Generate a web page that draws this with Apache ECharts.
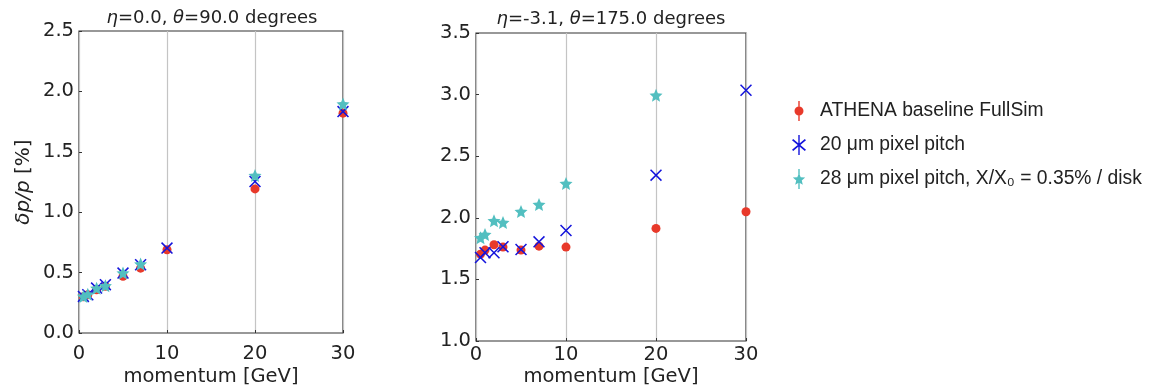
<!DOCTYPE html>
<html><head><meta charset="utf-8">
<script src="https://cdn.jsdelivr.net/npm/echarts@6/dist/echarts.min.js"></script>
<style>html,body{margin:0;padding:0;background:#fff}#c{width:1155px;height:386px}</style>
</head><body><div id="c"></div>
<script>
// ---- data ----
const momentum = [0.5, 1, 2, 3, 5, 7, 10, 20, 30];
const xTicks = [0, 10, 20, 30];
const seriesNames = ['ATHENA baseline FullSim', '20 \u03bcm pixel pitch', '28 \u03bcm pixel pitch, X/X\u2080 = 0.35% / disk'];
// eta = 0.0, theta = 90 deg
const leftBaseline = [0.30, 0.317, 0.358, 0.386, 0.469, 0.537, 0.689, 1.193, 1.82];
const left20um     = [0.303, 0.317, 0.372, 0.40, 0.496, 0.565, 0.703, 1.254, 1.833];
const left28um     = [0.303, 0.32, 0.37, 0.391, 0.496, 0.571, null, 1.304, 1.896];
// eta = -3.1, theta = 175 deg
const rightBaseline = [1.705, 1.738, 1.781, 1.762, 1.738, 1.770, 1.762, 1.914, 2.049];
const right20um     = [1.678, 1.716, 1.716, 1.765, 1.743, 1.805, 1.897, 2.346, 3.035];
const right28um     = [1.838, 1.865, 1.976, 1.962, 2.051, 2.108, 2.278, 2.995, null];

// ---- styles ----
const RED = '#e8392a', BLUE = '#1414dc', CYAN = '#52bfc0';
function starPath(cx, cy, ro, ri) {
  let d = '';
  for (let i = 0; i < 10; i++) {
    const a = i * Math.PI / 5;
    const r = i % 2 ? ri : ro;
    const x = cx + r * Math.sin(a), y = cy - r * Math.cos(a);
    d += (i ? 'L' : 'M') + x.toFixed(2) + ',' + y.toFixed(2);
  }
  return d + 'Z';
}
const X_SYM = 'path://M0,0.9L0.9,0L10,9.1L9.1,10Z M9.1,0L10,0.9L0.9,10L0,9.1Z';
const STAR_SYM = 'path://' + starPath(10, 10, 10, 4.6);
const BAR = 'M9.3,0h1.4v20h-1.4z ';
const ICON_RED = 'path://' + BAR + 'M5.5,10a4.5,4.5 0 1 1 9,0a4.5,4.5 0 1 1 -9,0z';
const ICON_BLUE = 'path://' + BAR + 'M3,5.2L4.2,4L17,14.8L15.8,16Z M15.8,4L17,5.2L4.2,16L3,14.8Z';
const ICON_CYAN = 'path://' + BAR + starPath(10, 10.5, 6.5, 2.9);

function pairs(ys) { return momentum.map((m, i) => [m, ys[i]]); }

const FS = 19.5;
const tickFont = {fontFamily: 'DejaVu Sans', fontSize: FS, color: '#222'};
function xAxis(gridIndex, gap, margin) {
  return {
    type: 'value', gridIndex, min: 0, max: 30, interval: 10,
    name: 'momentum [GeV]', nameLocation: 'middle', nameGap: gap, nameMoveOverlap: false,
    nameTextStyle: {fontFamily: 'DejaVu Sans', fontSize: FS, color: '#222'},
    axisLine: {show: false},
    axisTick: {show: true, inside: true, length: 3, lineStyle: {color: '#333'}},
    axisLabel: Object.assign({margin}, tickFont),
    splitLine: {show: true, lineStyle: {color: '#c4c4c4', width: 1.2}}
  };
}
function yAxis(gridIndex, min, max, name) {
  return {
    type: 'value', gridIndex, min, max, interval: 0.5,
    name: name || '', nameLocation: 'middle', nameGap: 45, nameMoveOverlap: false,
    nameTextStyle: {fontFamily: 'DejaVu Sans', fontSize: 20, color: '#222',
      rich: {i: {fontFamily: 'DejaVu Sans', fontStyle: 'italic', fontSize: 20, color: '#222'},
             n: {fontFamily: 'DejaVu Sans', fontSize: 20, color: '#222'}}},
    axisLine: {show: false},
    axisTick: {show: true, inside: true, length: 3, lineStyle: {color: '#333'}},
    axisLabel: Object.assign({margin: 5, formatter: v => v.toFixed(1)}, tickFont),
    splitLine: {show: false}
  };
}
function sc(name, xi, data, sym, size, color, z) {
  return {name, type: 'scatter', xAxisIndex: xi, yAxisIndex: xi, data: pairs(data),
    symbol: sym, symbolSize: size, itemStyle: {color, opacity: 1}, z, silent: true};
}
const titleRich = {
  i: {fontFamily: 'DejaVu Sans', fontStyle: 'italic', fontWeight: 'normal', fontSize: 18, color: '#222'},
  n: {fontFamily: 'DejaVu Sans', fontWeight: 'normal', fontSize: 18, color: '#222'}
};
const chart = echarts.init(document.getElementById('c'), null, {renderer: 'canvas'});
chart.setOption({
  animation: false,
  title: [
    {text: '{i|\u03b7}{n|=0.0, }{i|\u03b8}{n|=90.0 degrees}', left: 207, top: 4, textAlign: 'center',
     textStyle: {fontWeight: 'normal', rich: titleRich}},
    {text: '{i|\u03b7}{n|=-3.1, }{i|\u03b8}{n|=175.0 degrees}', left: 606, top: 5, textAlign: 'center',
     textStyle: {fontWeight: 'normal', rich: titleRich}}
  ],
  grid: [
    {left: 79, top: 31, width: 264, height: 302, show: true, borderColor: '#333', borderWidth: 1.2,
     backgroundColor: 'transparent', outerBoundsMode: 'none', containLabel: false},
    {left: 476, top: 33, width: 270, height: 308, show: true, borderColor: '#333', borderWidth: 1.2,
     backgroundColor: 'transparent', outerBoundsMode: 'none', containLabel: false}
  ],
  xAxis: [xAxis(0, 34, 11), xAxis(1, 26, 4)],
  yAxis: [yAxis(0, 0, 2.5, '{i|\u03b4p/p}{n| [%]}'), yAxis(1, 1.0, 3.5)],
  legend: {
    orient: 'vertical', left: 787, top: 96, itemGap: 14, itemWidth: 20, itemHeight: 20,
    textStyle: {fontFamily: 'Liberation Sans', fontSize: 19.3, color: '#222', padding: [0, 0, 0, 6]},
    data: [
      {name: seriesNames[0], icon: ICON_RED, itemStyle: {color: RED}},
      {name: seriesNames[1], icon: ICON_BLUE, itemStyle: {color: BLUE}},
      {name: seriesNames[2], icon: ICON_CYAN, itemStyle: {color: CYAN}}
    ]
  },
  series: [
    sc(seriesNames[0], 0, leftBaseline, 'circle', 9, RED, 2),
    sc(seriesNames[1], 0, left20um, X_SYM, 12, BLUE, 3),
    sc(seriesNames[2], 0, left28um, STAR_SYM, 13, CYAN, 4),
    sc(seriesNames[0], 1, rightBaseline, 'circle', 9, RED, 2),
    sc(seriesNames[1], 1, right20um, X_SYM, 12, BLUE, 3),
    sc(seriesNames[2], 1, right28um, STAR_SYM, 13, CYAN, 4)
  ]
});
</script></body></html>
